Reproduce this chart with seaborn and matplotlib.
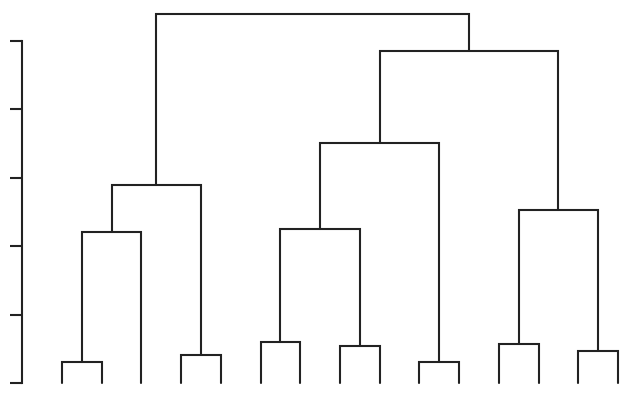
import numpy as np
import pandas as pd
import matplotlib
matplotlib.use("Agg")
import matplotlib.pyplot as plt
import seaborn as sns

# Leaves in plotting order (15 observations)
n_leaves = 15
# Merges (linkage style): child ids < 15 are leaves, >= 15 are earlier merges
merge_left = [0, 9, 3, 13, 7, 11, 5, 15, 21, 20, 22, 23, 26, 25]
merge_right = [1, 10, 4, 14, 8, 12, 6, 2, 19, 18, 17, 16, 24, 27]
merge_height = [0.31, 0.31, 0.41, 0.46, 0.54, 0.565, 0.60,
                2.20, 2.25, 2.53, 2.89, 3.51, 4.84, 5.38]
ytick_values = [0, 1, 2, 3, 4, 5]

sns.set_style("ticks")
fig = plt.figure(figsize=(6.21, 3.93), dpi=100)
ax = fig.add_axes([22 / 621, 0, 1 - 22 / 621, 1])

node_x = {i: float(i + 1) for i in range(n_leaves)}
node_h = {i: 0.0 for i in range(n_leaves)}
color = "#222222"
for k, (a, b, h) in enumerate(zip(merge_left, merge_right, merge_height)):
    nid = n_leaves + k
    xa, xb = node_x[a], node_x[b]
    ha, hb = node_h[a], node_h[b]
    ax.plot([xa, xa, xb, xb], [ha, h, h, hb], color=color, lw=1.5,
            solid_joinstyle="miter", clip_on=False)
    node_x[nid] = (xa + xb) / 2
    node_h[nid] = h

px = 556 / 14
ax.set_xlim(1 - 40 / px, 15 + 3 / px)
unit = 68.5
ax.set_ylim(-10 / unit, 383 / unit)
ax.set_yticks(ytick_values)
ax.set_yticklabels([])
ax.set_xticks([])
for s in ["top", "right", "bottom"]:
    ax.spines[s].set_visible(False)
ax.spines["left"].set_bounds(0, 5)
ax.spines["left"].set_linewidth(1.5)
ax.spines["left"].set_color(color)
ax.tick_params(axis="y", length=9, width=1.5, color=color)
ax.patch.set_alpha(0)
fig.savefig("out.png", dpi=100)
